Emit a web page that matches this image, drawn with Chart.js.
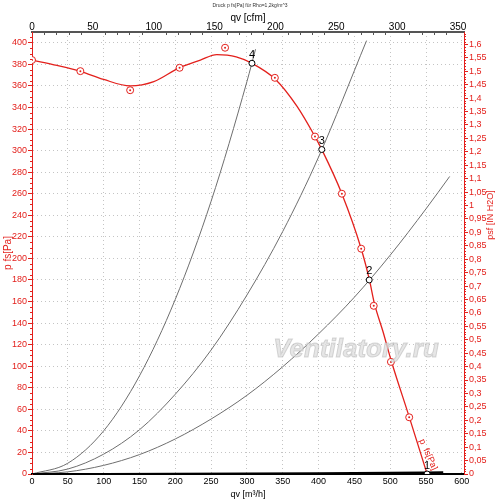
<!DOCTYPE html>
<html>
<head>
<meta charset="utf-8">
<script src="https://cdn.jsdelivr.net/npm/chart.js@4.4.0/dist/chart.umd.min.js"></script>
<style>html,body{margin:0;padding:0;background:#fff}</style>
</head>
<body>
<canvas id="chart1" width="500" height="500"></canvas>
<script>
// fan curve p fs [Pa] over qv [m3/h] (fitted line)
const fanQ = [0, 35, 67.5, 100, 137, 170, 206, 235, 258, 285, 307, 340, 370, 395, 404.5, 432.5, 459.5, 471, 478, 490, 501, 526.5, 551.5];
const fanP = [384, 379, 373.5, 366, 360, 364, 377, 384, 389, 387, 381, 366, 341, 313, 301, 260, 209, 180, 158, 132, 106, 53, 0];

// measured points
const measQ = [0, 67.5, 137, 206, 269.5, 339, 395, 432.5, 459.5, 477, 501, 526.5];
const measP = [384, 373.7, 356, 376.8, 395.4, 367.5, 313, 260, 209, 156, 104, 52.6];

// system curves 1..4
const sys1Q = [0, 100, 200, 300, 400, 500, 574];
const sys1P = [0, 0.05, 0.2, 0.45, 0.8, 1.25, 1.65];
const sys2Q = [0, 50, 100, 150, 200, 250, 300, 350, 400, 450, 500, 550, 583];
const sys2P = [0, 2, 8, 18, 32.5, 51, 73, 99.5, 130, 164, 203, 246, 276];
const sys3Q = [0, 50, 100, 150, 200, 250, 300, 350, 400, 467];
const sys3P = [0, 4.6, 18.4, 41, 74, 115, 166, 225, 294, 402];
const sys4Q = [0, 50, 100, 150, 200, 250, 300, 312];
const sys4P = [0, 10, 40, 91, 162, 253, 364, 394];

// operating points
const opQ = [551.5, 470.7, 404.5, 307];
const opP = [0, 180, 301, 381];
const opLabels = ['1', '2', '3', '4'];

// axis ranges
const qMax = 603;
const pMax = 410;
const M3H_PER_CFM = 1.699;
const PA_PER_INH2O = 249.089;

const RED = '#e3201c';
const GRAY = '#6e6e6e';
const FONT = 'Liberation Sans, Arial, sans-serif';

function pts(xs, ys) {
    return xs.map((x, i) => ({x: x, y: ys[i]}));
}

function comma(v) {
    return String(Math.round(v * 100) / 100).replace('.', ',');
}

const extras = {
    id: 'extras',
    afterDraw(chart) {
        const ctx = chart.ctx;
        const a = chart.chartArea;
        const xs = chart.scales.x, ys = chart.scales.y;
        const y2 = chart.scales.y2, x2 = chart.scales.x2;
        ctx.save();

        // minor ticks
        ctx.lineWidth = 1;
        ctx.strokeStyle = RED;
        for (let v = 5; v < pMax; v += 5) {
            if (v % 20 === 0) continue;
            const y = Math.round(ys.getPixelForValue(v)) + 0.5;
            ctx.beginPath(); ctx.moveTo(a.left - 2, y); ctx.lineTo(a.left, y); ctx.stroke();
        }
        for (let i = 1; i * 0.01 < pMax / PA_PER_INH2O; i++) {
            if (i % 5 === 0) continue;
            const y = Math.round(y2.getPixelForValue(i * 0.01)) + 0.5;
            ctx.beginPath(); ctx.moveTo(a.right, y); ctx.lineTo(a.right + 2, y); ctx.stroke();
        }
        ctx.strokeStyle = '#555';
        for (let v = 10; v < qMax / M3H_PER_CFM; v += 10) {
            if (v % 50 === 0) continue;
            const x = Math.round(x2.getPixelForValue(v)) + 0.5;
            ctx.beginPath(); ctx.moveTo(x, a.top); ctx.lineTo(x, a.top + 3); ctx.stroke();
        }

        // operating point numbers
        ctx.fillStyle = '#000';
        ctx.font = '11px ' + FONT;
        ctx.textAlign = 'center';
        ctx.textBaseline = 'bottom';
        opQ.forEach((q, i) => {
            ctx.fillText(opLabels[i], xs.getPixelForValue(q), ys.getPixelForValue(opP[i]) - 3);
        });

        // curve label
        ctx.save();
        ctx.translate(xs.getPixelForValue(553), ys.getPixelForValue(18));
        ctx.rotate(66 * Math.PI / 180);
        ctx.fillStyle = RED;
        ctx.font = '9px ' + FONT;
        ctx.textBaseline = 'middle';
        ctx.fillText('p  fs[Pa]', 0, 0);
        ctx.restore();

        // right axis title
        ctx.save();
        ctx.translate(491, 215);
        ctx.rotate(-Math.PI / 2);
        ctx.fillStyle = RED;
        ctx.font = '9px ' + FONT;
        ctx.textBaseline = 'middle';
        ctx.fillText('psf [IN H2O]', 0, 0);
        ctx.restore();

        // header
        ctx.fillStyle = '#333';
        ctx.font = '5px ' + FONT;
        ctx.textBaseline = 'middle';
        ctx.fillText('Druck p fs[Pa] für Rho=1,2kg/m^3', 250, 6);

        // watermark
        ctx.font = 'italic bold 26px ' + FONT;
        ctx.textBaseline = 'middle';
        ctx.fillStyle = 'rgba(222,222,222,0.75)';
        ctx.strokeStyle = 'rgba(170,170,170,0.45)';
        ctx.lineWidth = 1;
        const wx = a.left + (a.right - a.left) * 0.75;
        const wy = a.top + (a.bottom - a.top) * 0.72;
        ctx.fillText('Ventilatory.ru', wx, wy);
        ctx.strokeText('Ventilatory.ru', wx, wy);

        ctx.restore();
    }
};

document.addEventListener('DOMContentLoaded', function() {
    const ctx = document.getElementById('chart1').getContext('2d');
    const sysLine = (q, p, color, width) => ({
        type: 'line', data: pts(q, p), borderColor: color, borderWidth: width,
        pointRadius: 0, cubicInterpolationMode: 'monotone', fill: false, order: 5
    });

    new Chart(ctx, {
        type: 'line',
        data: {
            datasets: [
                {
                    type: 'scatter', data: pts(opQ, opP), pointRadius: 3,
                    borderColor: '#000', backgroundColor: '#fff', borderWidth: 1, order: 0
                },
                {
                    type: 'scatter', data: pts(measQ, measP), pointRadius: 1,
                    borderColor: RED, backgroundColor: RED, borderWidth: 0, order: 1
                },
                {
                    type: 'scatter', data: pts(measQ, measP), pointRadius: 3.5,
                    borderColor: RED, backgroundColor: '#fff', borderWidth: 1, order: 2
                },
                {
                    type: 'line', data: pts(fanQ, fanP), borderColor: RED, borderWidth: 1.3,
                    pointRadius: 0, cubicInterpolationMode: 'monotone', fill: false, order: 3
                },
                sysLine(sys1Q, sys1P, '#000', 2),
                sysLine(sys2Q, sys2P, GRAY, 1),
                sysLine(sys3Q, sys3P, GRAY, 1),
                sysLine(sys4Q, sys4P, GRAY, 1)
            ]
        },
        options: {
            responsive: false,
            animation: false,
            layout: {padding: 0},
            plugins: {legend: {display: false}, tooltip: {enabled: false}},
            scales: {
                x: {
                    type: 'linear', position: 'bottom', min: 0, max: qMax,
                    afterBuildTicks: s => { s.ticks = s.ticks.filter(t => t.value % 50 === 0); },
                    afterFit: s => { s.height = 26; },
                    ticks: {stepSize: 50, includeBounds: false, color: '#000', font: {size: 9, family: FONT}, padding: 2, maxRotation: 0, autoSkip: false},
                    grid: {color: '#c4c4c4', drawTicks: false},
                    border: {color: '#000', width: 2, dash: [1, 3]},
                    title: {display: true, text: 'qv [m³/h]', color: '#000', font: {size: 9, family: FONT}, padding: 0}
                },
                x2: {
                    type: 'linear', position: 'top', min: 0, max: qMax / M3H_PER_CFM,
                    afterBuildTicks: s => { s.ticks = s.ticks.filter(t => t.value % 50 === 0); },
                    afterFit: s => { s.height = 32; },
                    ticks: {stepSize: 50, includeBounds: false, color: '#000', font: {size: 10, family: FONT}, padding: -1, maxRotation: 0, autoSkip: false},
                    grid: {drawOnChartArea: false, drawTicks: false},
                    border: {color: '#555', width: 2},
                    title: {display: true, text: 'qv [cfm]', color: '#000', font: {size: 10, family: FONT}, padding: {top: 12, bottom: 0}}
                },
                y: {
                    type: 'linear', position: 'left', min: 0, max: pMax,
                    afterBuildTicks: s => { s.ticks = s.ticks.filter(t => t.value % 20 === 0); },
                    afterFit: s => { s.width = 32; },
                    ticks: {stepSize: 20, includeBounds: false, color: RED, font: {size: 9, family: FONT}, padding: 1, autoSkip: false},
                    grid: {color: '#c4c4c4', tickLength: 4, tickColor: RED},
                    border: {color: RED, width: 1, dash: [1, 3]},
                    title: {display: true, text: 'p fs[Pa]', color: RED, font: {size: 10, family: FONT}, padding: {top: 2, bottom: 0}}
                },
                y2: {
                    type: 'linear', position: 'right', min: 0, max: pMax / PA_PER_INH2O,
                    afterBuildTicks: s => { s.ticks = s.ticks.filter(t => Math.abs(t.value * 20 - Math.round(t.value * 20)) < 1e-6); },
                    afterFit: s => { s.width = 36; },
                    ticks: {stepSize: 0.05, includeBounds: false, color: RED, font: {size: 9, family: FONT}, padding: 1, autoSkip: false,
                        callback: v => comma(v)},
                    grid: {drawOnChartArea: false, tickLength: 4, tickColor: RED},
                    border: {color: RED, width: 1}
                }
            }
        },
        plugins: [extras]
    });
});
</script>
</body>
</html>
